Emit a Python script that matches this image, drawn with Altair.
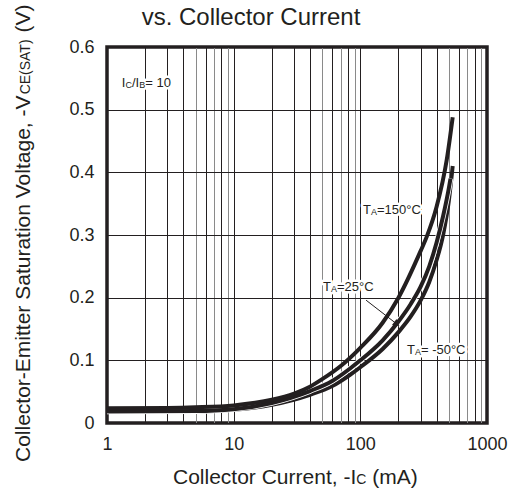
import altair as alt
import pandas as pd

FONT = "Liberation Sans"
INK = "#231f20"

# ---------------- data ----------------
x_labels = [1, 10, 100, 1000]
x_grid = [1, 2, 3, 4, 5, 6, 7, 8, 9, 10, 20, 30, 40, 50, 60, 70, 80, 90,
          100, 200, 300, 400, 500, 600, 700, 800, 900, 1000]
x_grid_light = [5, 7, 9, 50, 70, 90, 500, 700, 900]
y_ticks = [0, 0.1, 0.2, 0.3, 0.4, 0.5, 0.6]

ic_150 = [1, 3, 5, 10, 20, 30, 40, 50, 70, 100, 150, 200, 300, 334, 400, 481, 536]
v_150 = [0.0235, 0.024, 0.025, 0.028, 0.037, 0.047, 0.058, 0.07, 0.091, 0.12,
         0.16, 0.2, 0.275, 0.297, 0.345, 0.42, 0.488]

ic_25 = [1, 5, 10, 20, 40, 60, 83, 100, 150, 200, 250, 300, 350, 400, 450, 500, 515]
v_25 = [0.0185, 0.019, 0.022, 0.032, 0.051, 0.067, 0.087, 0.1, 0.132, 0.162,
        0.19, 0.218, 0.25, 0.288, 0.33, 0.375, 0.39]

ic_m50 = [1, 5, 10, 20, 40, 60, 83, 100, 150, 200, 250, 300, 350, 400, 450, 500, 536]
v_m50 = [0.0175, 0.018, 0.021, 0.029, 0.045, 0.059, 0.077, 0.089, 0.118, 0.145,
         0.17, 0.196, 0.225, 0.26, 0.3, 0.355, 0.41]

# annotation texts (pieces: main / subscript) and anchors in data units
lab_pieces = [
    [("I", 0), ("C", 1), ("/I", 0), ("B", 1), ("= 10", 0)],
    [("T", 0), ("A", 1), ("=150°C", 0)],
    [("T", 0), ("A", 1), ("=25°C", 0)],
    [("T", 0), ("A", 1), ("= -50°C", 0)],
]
lab_ic = [1.31, 105, 50.7, 233.5]
lab_v = [0.5426, 0.340, 0.217, 0.1165]

arrow_ic = [111, 194]
arrow_v = [0.196, 0.158]

title_text = "vs. Collector Current"
ytitle_pieces = [("Collector-Emitter Saturation Voltage, -V", 0), ("CE(SAT)", 1), (" (V)", 0)]
xtitle_pieces = [("Collector Current, -I", 0), ("C", 1), (" (mA)", 0)]

# ---------------- helpers ----------------
AW = {'I': 278, 'C': 722, '/': 278, 'B': 667, '=': 584, ' ': 278, '1': 556, '0': 556,
      'T': 611, 'A': 667, '5': 556, '2': 556, '-': 333, '°': 400, '(': 333, ')': 333,
      'S': 667, 'E': 667, 'V': 667, 'o': 556, 'l': 222, 'e': 556, 'c': 500, 't': 278,
      'r': 333, 'm': 833, 'i': 222, 'a': 556, 'u': 556, 'n': 556, 'g': 556, ',': 278}


def tw(s, size):
    return sum(AW.get(ch, 556) for ch in s) / 1000.0 * size


W, H = 380, 376

xscale = alt.Scale(type="log", domain=[1, 1000])
yscale = alt.Scale(domain=[0, 0.6])

light_test = "indexof([" + ",".join(str(v) for v in x_grid_light) + "], datum.value) >= 0"
lab_test = "indexof([" + ",".join(str(v) for v in x_labels) + "], datum.value) >= 0"

X = alt.X("ic:Q", scale=xscale, axis=alt.Axis(
    values=x_grid, labelExpr=lab_test + " ? toString(datum.value) : ''",
    grid=True, gridColor={"condition": {"test": light_test, "value": "#8a8a8a"}, "value": INK},
    gridWidth=1, gridOpacity=1, ticks=False, domain=False,
    labelFont=FONT, labelFontSize=18, labelColor=INK, labelPadding=12,
    labelFlush=False, labelOverlap=False, title=None))
Y = alt.Y("v:Q", scale=yscale, axis=alt.Axis(
    values=y_ticks, labelExpr="datum.value == 0 ? '0' : format(datum.value, '.1f')",
    grid=True, gridColor=INK, gridWidth=1, gridOpacity=1, ticks=False, domain=False,
    labelFont=FONT, labelFontSize=18, labelColor=INK, labelPadding=13,
    title=None))


def series_df(ic, v):
    return pd.DataFrame({"ic": ic, "v": v, "k": list(range(len(ic)))})


d150 = series_df(ic_150, v_150)
d25 = series_df(ic_25, v_25)
dm50 = series_df(ic_m50, v_m50)


def line(df, color, width):
    return alt.Chart(df).mark_line(interpolate="monotone", color=color, strokeWidth=width,
                                   strokeCap="butt").encode(x=X, y=Y, order="k:Q")


layers = [
    line(dm50, INK, 4),
    line(d25, "white", 5.6),
    line(d25, INK, 4),
    line(d150, INK, 4),
]

# arrow
adf = pd.DataFrame({"ic": [arrow_ic[0]], "v": [arrow_v[0]], "ic2": [arrow_ic[1]], "v2": [arrow_v[1]]})
layers.append(alt.Chart(adf).mark_rule(color=INK, strokeWidth=1).encode(
    x=X, y=Y, x2="ic2:Q", y2="v2:Q"))
hdf = pd.DataFrame({"ic": [arrow_ic[1]], "v": [arrow_v[1]]})
layers.append(alt.Chart(hdf).mark_point(shape="triangle-right", angle=38, size=55, filled=True,
                                        color=INK, opacity=1).encode(x=X, y=Y))

# in-plot labels: all halos first, then all texts
MAIN, SUB = 13, 9
halo_layers, text_layers = [], []
for pieces, ic, v in zip(lab_pieces, lab_ic, lab_v):
    ldf = pd.DataFrame({"ic": [ic], "v": [v]})
    off = 0.0
    for txt, is_sub in pieces:
        size = SUB if is_sub else MAIN
        dy = 2 if is_sub else 0
        lead = len(txt) - len(txt.lstrip(" "))
        shown = txt.lstrip(" ")
        start = off + tw(" " * lead, size)
        base = dict(text=shown, font=FONT, fontSize=size, align="left", baseline="middle",
                    dx=start, dy=dy)
        halo_layers.append(alt.Chart(ldf).mark_text(
            color="white", stroke="white", strokeWidth=5, strokeJoin="round", **base
        ).encode(x=X, y=Y))
        text_layers.append(alt.Chart(ldf).mark_text(color=INK, **base).encode(x=X, y=Y))
        off += tw(txt, size)
layers += halo_layers + text_layers

one = pd.DataFrame({"a": [0]})

# chart title (visible line)
layers.append(alt.Chart(one).mark_text(text=title_text, font=FONT, fontSize=24, color=INK,
                                       align="center", baseline="alphabetic").encode(
    x=alt.value(144), y=alt.value(-22)))

TS, TSS = 21, 14


def title_pieces(pieces, x, y, angle):
    out = []
    off = 0.0
    for txt, is_sub in pieces:
        size = TSS if is_sub else TS
        lead = len(txt) - len(txt.lstrip(" "))
        shown = txt.lstrip(" ")
        start = off + tw(" " * lead, size)
        props = dict(text=shown, font=FONT, fontSize=size, color=INK,
                     align="left", baseline="alphabetic", dx=start)
        if angle:
            props["angle"] = angle
        out.append(alt.Chart(one).mark_text(**props).encode(x=alt.value(x), y=alt.value(y)))
        off += tw(txt, size)
    return out


layers += title_pieces(ytitle_pieces, -77, 415, 270)
layers += title_pieces(xtitle_pieces, 66, 437, 0)

chart = alt.layer(*layers).properties(
    width=W, height=H,
    autosize=alt.AutoSizeParams(type="none"),
    padding={"left": 107, "top": 47, "right": 22, "bottom": 72},
    background="white",
).configure_view(stroke=INK, strokeWidth=3.5)

chart.save("out.html", embed_options={"renderer": "svg", "actions": False})
